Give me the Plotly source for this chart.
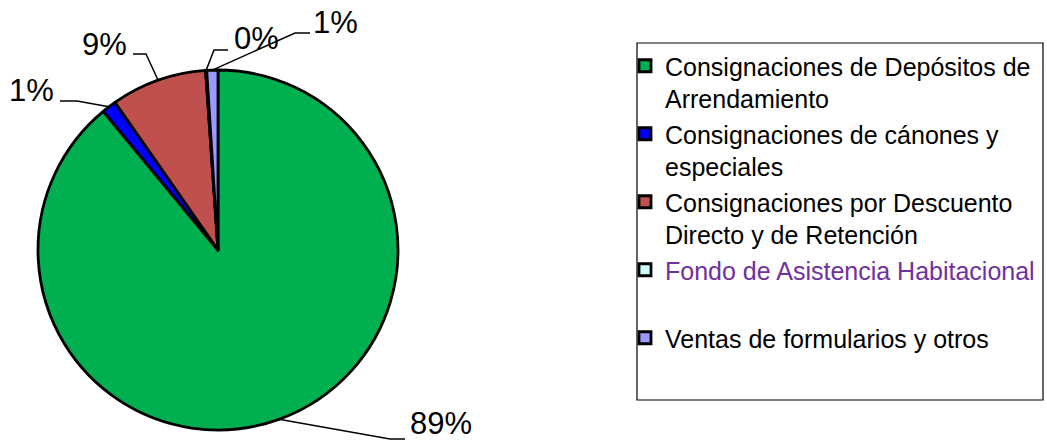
import math
import plotly.graph_objects as go

# ---- data ----
categories = [
    "Consignaciones de Depósitos de<br>Arrendamiento",
    "Consignaciones de cánones y<br>especiales",
    "Consignaciones por Descuento<br>Directo y de Retención",
    "<span style='color:#7030A0'>Fondo de Asistencia Habitacional</span><br> ",
    "Ventas de formularios y otros<br> ",
]
values = [89.0, 1.3, 8.6, 0.1, 1.0]
colors = ["#00B050", "#0000FF", "#C0504D", "#CCFFFF", "#9999FF"]

# ---- layout constants (pixels) ----
W, H = 1047, 444
CX, CY, R = 218, 250, 180
FONT = "Arial, Liberation Sans, sans-serif"

# label anchor / leader line layout per slice: (text_x, text_y, xanchor, elbow, end)
label_layout = [
    (408, 423, "left", (390, 439), (405, 439)),
    (56, 90, "right", (77, 101), (60, 101)),
    (129, 45, "right", (146, 54), (133, 54)),
    (232, 39, "left", (214, 50), (228, 50)),
    (311, 22, "left", (295, 33), (310, 33)),
]


def px(x):
    return x / W


def py(y):
    return 1 - y / H


fig = go.Figure(
    go.Pie(
        labels=categories,
        values=values,
        sort=False,
        direction="clockwise",
        rotation=0,
        marker=dict(colors=colors, line=dict(color="black", width=2.8)),
        textinfo="none",
        hoverinfo="label+percent",
        domain=dict(x=[px(CX - R), px(CX + R)], y=[py(CY + R), py(CY - R)]),
    )
)

total = sum(values)
cum = 0.0
annotations = []
shapes = []
for v, (tx, ty, xa, elbow, end) in zip(values, label_layout):
    mid = (cum + v / 2) / total * 2 * math.pi
    cum += v
    ex = CX + R * math.sin(mid)
    ey = CY - R * math.cos(mid)
    pct = round(v / total * 100)
    annotations.append(
        dict(
            x=px(tx), y=py(ty), xref="paper", yref="paper",
            text=f"{pct}%", showarrow=False, xanchor=xa, yanchor="middle",
            font=dict(family=FONT, size=31, color="black"),
        )
    )
    path = (
        f"M {px(ex)} {py(ey)} L {px(elbow[0])} {py(elbow[1])} "
        f"L {px(end[0])} {py(end[1])}"
    )
    shapes.append(
        dict(type="path", xref="paper", yref="paper", path=path,
             line=dict(color="black", width=1.5))
    )

# legend frame
shapes.append(
    dict(type="rect", xref="paper", yref="paper",
         x0=px(637), x1=px(1043), y0=py(400), y1=py(43),
         line=dict(color="black", width=1.2), fillcolor="rgba(0,0,0,0)")
)

fig.update_layout(
    width=W, height=H,
    margin=dict(l=0, r=0, t=0, b=0),
    paper_bgcolor="white",
    plot_bgcolor="white",
    font=dict(family=FONT, color="black"),
    showlegend=True,
    legend=dict(
        x=px(625), y=py(43), xanchor="left", yanchor="top",
        font=dict(family=FONT, size=25, color="black"),
        bgcolor="rgba(0,0,0,0)", borderwidth=0, valign="top",
    ),
    annotations=annotations,
    shapes=shapes,
)

fig.write_html(
    "out.html",
    config={"displayModeBar": False},
    post_script="document.body.style.margin='0';document.body.style.overflow='hidden';",
)
